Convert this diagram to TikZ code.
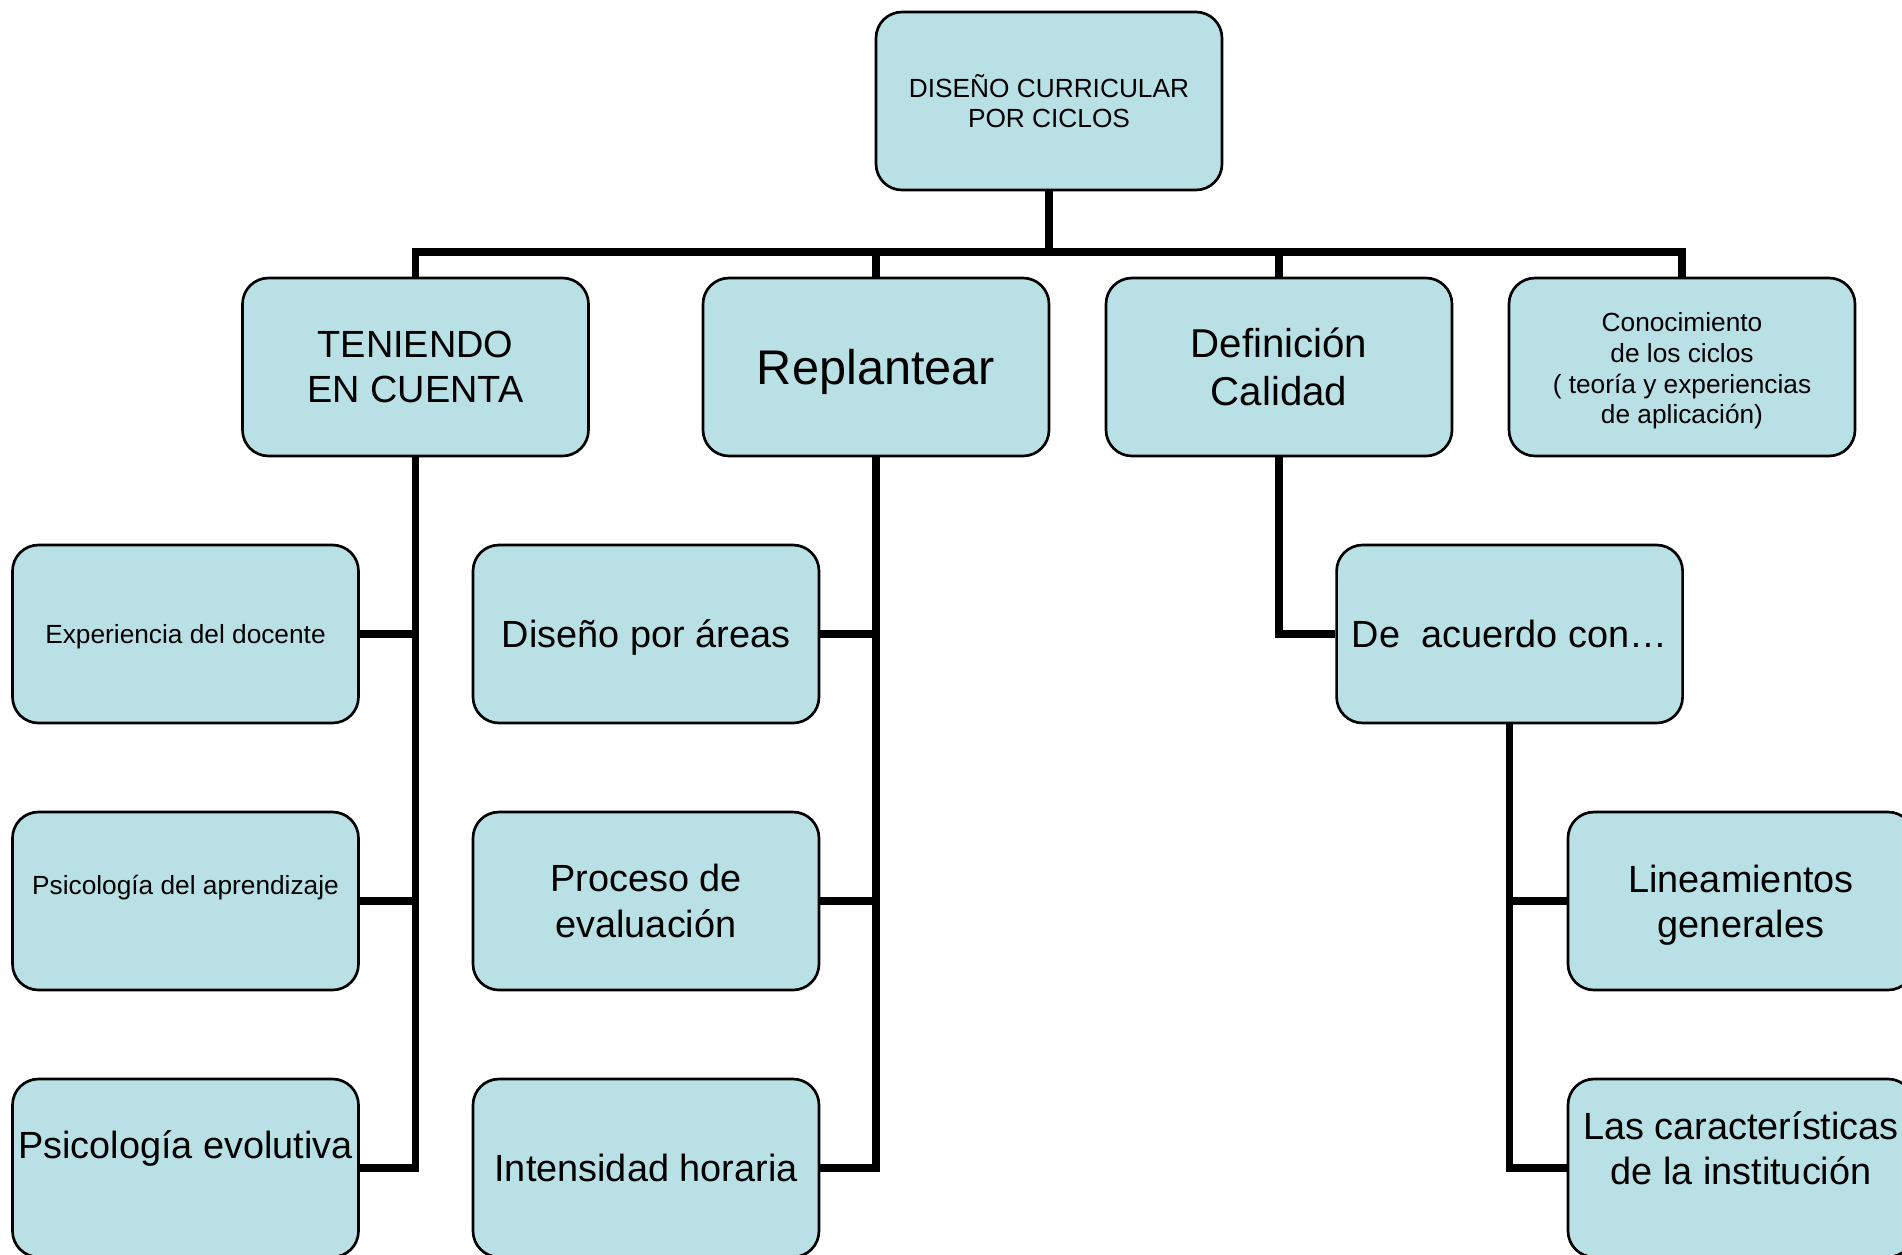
\documentclass[tikz,border=0pt]{standalone}
\usepackage{fontspec}
\setmainfont{Liberation Sans}
\usetikzlibrary{backgrounds}
\definecolor{boxfill}{RGB}{185,224,228}
\begin{document}
\begin{tikzpicture}[x=0.75pt,y=-0.75pt,
  box/.style={draw=black, line width=2pt, fill=boxfill, rounded corners=19.5pt,
    minimum width=259.5pt, minimum height=133.5pt, inner sep=0pt, align=center},
  small/.style={font=\fontsize{19.7}{23}\selectfont, align=center},
  big/.style={font=\fontsize{28.4}{34}\selectfont, align=center},
  conn/.style={line width=5.5pt}]
\useasboundingbox (0,0) rectangle (1902,1254);
\clip (0,0) rectangle (1902,1254);
% level 0
\node[box,small] (top) at (1049,101) {DISEÑO CURRICULAR\\POR CICLOS};
% level 1
\node[box,big] (ten) at (415.5,367) {TENIENDO\\EN CUENTA};
\node[box,font=\fontsize{36.5}{42}\selectfont,text depth=0pt] (rep) at (876,367) {Replantear};
\node[box,font=\fontsize{30.2}{35.5}\selectfont] (def) at (1279,367) {Definición\\Calidad};
\node[box] (con) at (1682,367) {};
\node[small] (cont) at (1682,371) {Conocimiento\\de los ciclos\\( teoría y experiencias\\de aplicación)};
% left column
\node[box,small,text depth=0pt] (exp) at (185.5,634) {Experiencia del docente};
\node[box] (pap) at (185.5,901) {};
\node[small] (papt) at (185.5,888) {Psicología del aprendizaje};
\node[box] (pev) at (185.5,1168) {};
\node[big] (pevt) at (185.5,1148) {Psicología evolutiva};
% second column
\node[box,big,text depth=0pt] (dis) at (646,634) {Diseño por áreas};
\node[box,big] (pro) at (646,901) {Proceso de\\evaluación};
\node[box,big] (int) at (646,1168) {Intensidad horaria};
% right side
\node[box,big] (acu) at (1509.6,634) {De\ \ acuerdo con…};
\node[box] (lin) at (1741,901) {};
\node[big] (lint) at (1741,905) {Lineamientos\\generales};
\node[box] (car) at (1741,1168) {};
\node[big] (cart) at (1741,1148) {Las características\\de la institución};
% connectors
\begin{scope}[on background layer]
\coordinate (bar) at (1049,252);
\draw[conn] (top.south) -- (bar);
\draw[conn] (ten.north) |- (bar) -| (con.north);
\draw[conn] (rep.north) -- (rep.north |- bar);
\draw[conn] (def.north) -- (def.north |- bar);
\draw[conn] (ten.south) |- (exp.east);
\draw[conn] (ten.south) |- (pap.east);
\draw[conn] (ten.south) |- (pev.east);
\draw[conn] (rep.south) |- (dis.east);
\draw[conn] (rep.south) |- (pro.east);
\draw[conn] (rep.south) |- (int.east);
\draw[conn] (def.south) |- (acu.west);
\draw[conn] (acu.south) |- (lin.west);
\draw[conn] (acu.south) |- (car.west);
\end{scope}
\end{tikzpicture}
\end{document}
